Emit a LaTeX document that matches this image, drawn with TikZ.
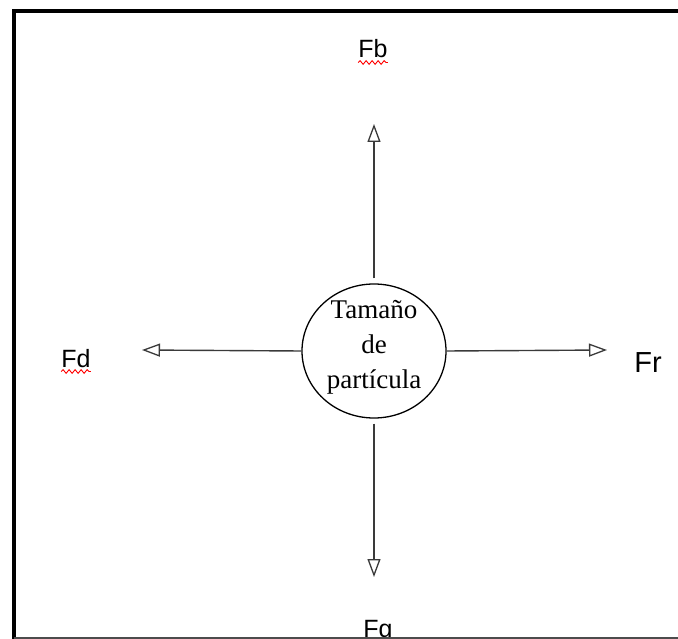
\documentclass[tikz,border=0pt]{standalone}
\usepackage{fontspec}
\setmainfont{Liberation Serif}
\setsansfont{Liberation Sans}
\usetikzlibrary{arrows.meta,positioning,shapes.geometric,decorations.pathmorphing}
\definecolor{lineagris}{HTML}{3A3A3A}

\begin{document}
\begin{tikzpicture}[
			x=1pt,y=-1pt,
			circ/.style={draw,ellipse,line width=1.3pt,minimum width=144pt,minimum height=134pt,inner sep=0pt},
			fuerza/.style={-{Triangle[open,length=18pt,width=13pt,line width=1.3pt]},line width=1.4pt,lineagris},
			etiq/.style={anchor=base,inner sep=0pt,font=\fontsize{25}{28}\selectfont\sffamily},
			ondita/.style={red,line width=0.9pt,decorate,decoration={snake,amplitude=1.8pt,segment length=6pt}}
			]
			\useasboundingbox (0,0) rectangle (678,639);
			\draw[line width=4pt] (14,660)--(14,11)--(690,11);
			\node[circ] (tam) at (374,351) {};
			\node[align=center,inner sep=0pt,font=\fontsize{27}{35}\selectfont] (tamtxt) at (374,347) {Tamaño\\de\\partícula};
			\coordinate (pb) at (374,124);
			\coordinate (pg) at (374,577);
			\coordinate (pd) at (142,350);
			\coordinate (pr) at (607,350);
			\draw[fuerza,shorten <=5pt] (tam.north)--(pb);
			\draw[fuerza,shorten <=5pt] (tam.south)--(pg);
			\draw[fuerza] (tam.west)--(pd);
			\draw[fuerza] (tam.east)--(pr);
			\node[etiq] (fb) at (373,58) {Fb};
			\node[etiq] (fd) at (76,367) {Fd};
			\node[etiq,font=\fontsize{29}{32}\selectfont\sffamily] (fr) at (648,373) {Fr};
			\node[etiq] (fg) at (378,637) {Fg};
			\draw[ondita] ([yshift=-4.5pt]fb.base west)--([yshift=-4.5pt]fb.base east);
			\draw[ondita] ([yshift=-4.5pt]fd.base west)--([yshift=-4.5pt]fd.base east);
			\draw[line width=2pt,black!70] (14,638)--(690,638);
		\end{tikzpicture}
\end{document}
